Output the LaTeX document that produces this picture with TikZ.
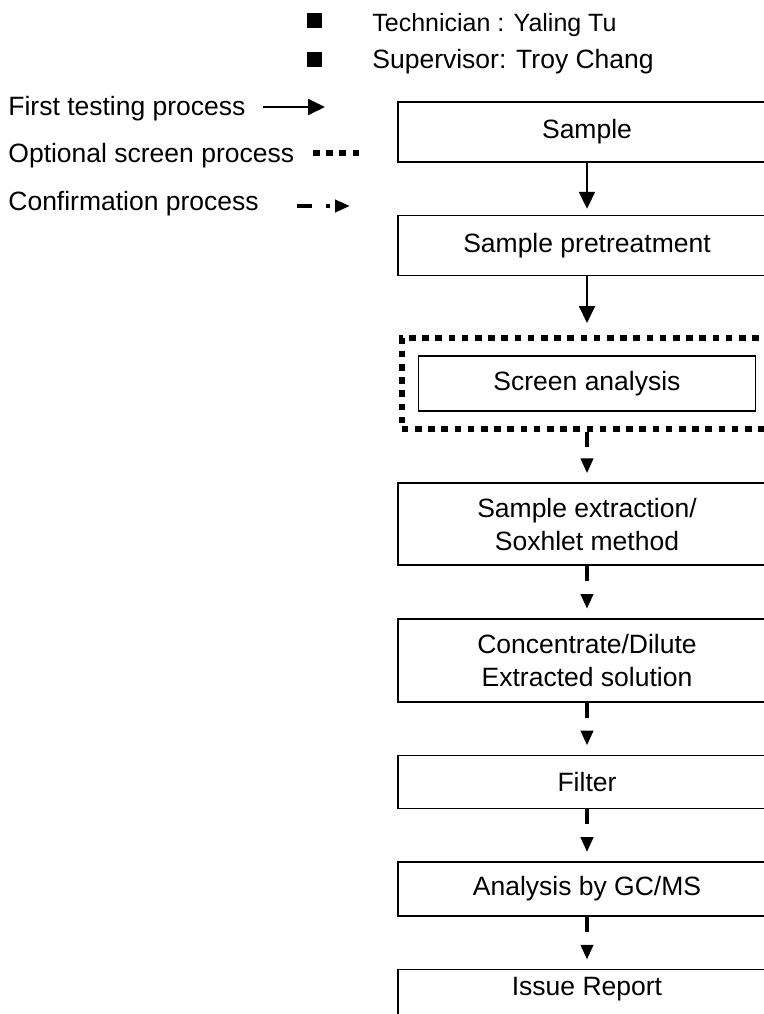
\documentclass[tikz,border=0pt]{standalone}
\usepackage{fontspec}
\setmainfont{Liberation Sans}
\usetikzlibrary{positioning,fit,arrows.meta}
\newcommand\flowfont{\fontsize{13.25pt}{16.5pt}\selectfont}
\newcommand\techfont{\fontsize{12.5pt}{15pt}\selectfont}

\begin{document}
\begin{tikzpicture}[
  stepbox/.style={draw, line width=0.8pt, minimum width=189pt, align=center, font=\flowfont},
  legendtext/.style={anchor=base west, font=\flowfont, inner sep=0pt},
  bulletsq/.style={fill, minimum size=7.5pt, inner sep=0pt},
  firstline/.style={line width=1pt, -{Triangle[length=8.5pt,width=8pt]}},
  screenline/.style={line width=3.2pt, dash pattern=on 3.3pt off 3.3pt},
  confirmline/.style={line width=2pt, dash pattern=on 7.5pt off 7pt on 2pt off 10pt, -{Triangle[length=7.5pt,width=6pt]}},
  node distance=26pt]
\useasboundingbox (0,0) rectangle (382pt,-507pt);

\node (b1) [bulletsq] at (157.25pt,-10pt) {};
\node (b2) [bulletsq] at (157.25pt,-29.75pt) {};
\node (tech) [legendtext, font=\techfont] at (186pt,-15.5pt) {Technician : Yaling Tu};
\node (super) [legendtext] at (186pt,-34pt) {Supervisor: Troy Chang};

\node (first) [legendtext] at (4pt,-57.5pt) {First testing process};
\node (optional) [legendtext] at (4pt,-81.25pt) {Optional screen process};
\node (confirm) [legendtext] at (4pt,-105pt) {Confirmation process};
\coordinate (firsts) at (131.5pt,-53.5pt);
\coordinate (firste) at (162.5pt,-53.5pt);
\coordinate (opts) at (156.5pt,-76.5pt);
\coordinate (opte) at (179.3pt,-76.5pt);
\coordinate (confs) at (148.5pt,-103pt);
\coordinate (confe) at (175pt,-103pt);
\draw[firstline] (firsts) -- (firste);
\draw[screenline] (opts) -- (opte);
\draw[confirmline] (confs) -- (confe);

\node (sample) [stepbox, minimum height=30pt] at (293.5pt,-66pt) {Sample};
\node (pretreat) [stepbox, minimum height=30pt, below=of sample] {Sample pretreatment};
\node (screen) [stepbox, minimum width=168.5pt, minimum height=27.5pt, below=39.5pt of pretreat] {Screen analysis};
\node (screenframe) [draw, screenline, fit=(screen), inner xsep=8pt, inner ysep=8.6pt] {};
\node (extract) [stepbox, minimum height=41pt, below=25pt of screenframe] {Sample extraction/\\Soxhlet method};
\node (conc) [stepbox, minimum height=41.5pt, below=of extract] {Concentrate/Dilute\\Extracted solution};
\node (filter) [stepbox, minimum height=26.5pt, below=of conc] {Filter};
\node (gcms) [stepbox, minimum height=27pt, below=of filter] {Analysis by GC/MS};
\node (report) [stepbox, minimum height=27pt, text depth=10pt, below=of gcms] {Issue Report};

\draw[firstline, shorten >=3pt] (sample) -- (pretreat);
\draw[firstline, shorten >=6pt] (pretreat) -- (screenframe);
\draw[confirmline, shorten >=4.5pt] (screenframe) -- (extract);
\draw[confirmline, shorten >=4.5pt] (extract) -- (conc);
\draw[confirmline, shorten >=4.5pt] (conc) -- (filter);
\draw[confirmline, shorten >=4.5pt] (filter) -- (gcms);
\draw[confirmline, shorten >=4.5pt] (gcms) -- (report);
\end{tikzpicture}
\end{document}
